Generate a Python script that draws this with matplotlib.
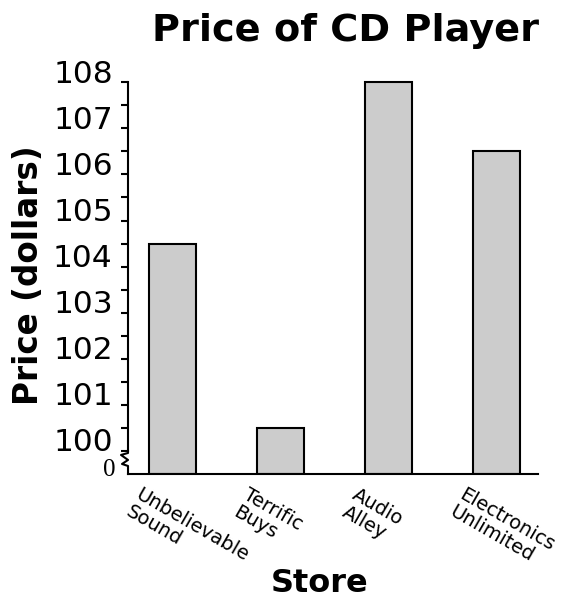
import matplotlib.pyplot as plt
from matplotlib.transforms import ScaledTranslation, blended_transform_factory
import numpy as np

# data
stores = ['Unbelievable\nSound', 'Terrific\nBuys', 'Audio\nAlley', 'Electronics\nUnlimited']
prices = [104.5, 100.5, 108.0, 106.5]
major_ticks = [100, 101, 102, 103, 104, 105, 106, 107, 108]
minor_ticks = [100.5, 101.5, 102.5, 103.5, 104.5, 105.5, 106.5, 107.5]

base = 99.5  # where the "0" of the broken axis sits

fig = plt.figure(figsize=(5.73, 6.01), dpi=100)
ax = fig.add_axes([0.2234, 0.2113, 0.7155, 0.6672])

x = np.arange(len(stores))
heights = [p - base for p in prices]
ax.bar(x, heights, bottom=base, width=0.435, color='#cccccc',
       edgecolor='black', linewidth=1.5, zorder=2)

ax.set_xlim(-0.412, 3.384)
ax.set_ylim(base, 108.2)

# spines
for s in ['top', 'right']:
    ax.spines[s].set_visible(False)
ax.spines['left'].set_bounds(100, 108)
ax.spines['left'].set_linewidth(1.5)
ax.spines['bottom'].set_linewidth(1.5)

# y ticks
ax.set_yticks(major_ticks)
ax.set_yticks(minor_ticks, minor=True)
ax.set_yticklabels([str(t) for t in major_ticks], fontsize=22.5,
                   family='DejaVu Sans')
ax.tick_params(axis='y', which='both', direction='out', length=5,
               width=1.5, pad=6)
up = ScaledTranslation(0, 8 / 72, fig.dpi_scale_trans)
for lab in ax.get_yticklabels():
    lab.set_transform(lab.get_transform() + up)

# x ticks
ax.set_xticks(x)
ax.set_xticklabels(stores, rotation=-30, ha='left', va='top',
                   rotation_mode='anchor', fontsize=14, family='DejaVu Sans',
                   linespacing=1.05)
ax.tick_params(axis='x', length=0, pad=8)
left = ScaledTranslation(-22 / 72, 0, fig.dpi_scale_trans)
for lab in ax.get_xticklabels():
    lab.set_transform(lab.get_transform() + left)

# axis break zigzag
px = 1 / 410.0
u = 1 / 46.1
tr = blended_transform_factory(ax.transAxes, ax.transData)
zx = [0, 0, -7 * px, 0, -6 * px, 0, 0]
zy = [100, 100 - 2 * u, 100 - 4 * u, 100 - 9 * u, 100 - 13 * u, 100 - 15 * u, base]
ax.plot(zx, zy, color='black', lw=1.5, transform=tr, clip_on=False)

ax.text(-13 * px, base + 4 * u, '0', transform=tr, ha='right', va='center',
        fontsize=18, family='Liberation Serif')

# labels
fig.text(346 / 573, 1 - 31 / 601, 'Price of CD Player', ha='center',
         va='center', fontsize=27.5, fontweight='bold', family='DejaVu Sans')
fig.text(29 / 573, 1 - 275 / 601, 'Price (dollars)', rotation=90,
         ha='center', va='center', fontsize=23.5, fontweight='bold',
         family='DejaVu Sans')
fig.text(320 / 573, 1 - 584 / 601, 'Store', ha='center', va='center',
         fontsize=23, fontweight='bold', family='DejaVu Sans')

fig.savefig('out.png', dpi=100)
